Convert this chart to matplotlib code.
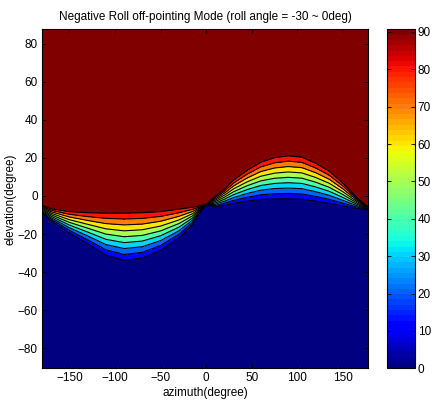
import numpy as np
import matplotlib
matplotlib.use("Agg")
import matplotlib.pyplot as plt
from matplotlib.colors import Normalize
from matplotlib.cm import ScalarMappable

# ---- data ----
# azimuth samples (deg)
azimuth = [-180, -170, -150, -130, -110, -90, -70, -50, -30, -15, -7, 0,
           10, 20, 30, 45, 60, 75, 90, 105, 120, 135, 150, 165, 175, 180]
# elevation of the highest contour line (level 90) at each azimuth
elev_top = [-4.8, -6.7, -8.2, -8.8, -9.0, -9.0, -8.8, -8.2, -6.9, -5.9, -5.2, -4.5,
            -0.1, 3.6, 8.3, 13.5, 17.7, 20.1, 21.1, 20.4, 17.2, 13.0, 6.7, -0.6, -4.8, -6.4]
# elevation of the lowest contour line (level 10) at each azimuth
elev_bot = [-9.0, -13.0, -19.5, -25.0, -31.0, -33.8, -32.6, -28.5, -22.1, -15.0, -9.0, -4.8,
            -5.8, -4.9, -3.9, -2.7, -1.8, -1.5, -1.5, -1.7, -2.7, -3.9, -5.3, -6.5, -7.2, -8.0]
low_level, high_level = 10, 90
contour_levels = [0, 10, 20, 30, 40, 50, 60, 70, 80, 90, 100]
cbar_ticks = [0, 10, 20, 30, 40, 50, 60, 70, 80, 90]
xticks = [-150, -100, -50, 0, 50, 100, 150]
yticks = [-80, -60, -40, -20, 0, 20, 40, 60, 80]

title = "Negative Roll off-pointing Mode (roll angle = -30 ~ 0deg)"
xlabel = "azimuth(degree)"
ylabel = "elevation(degree)"

# ---- build field on a fine rendering grid ----
az_fine = np.linspace(-180, 180, 721)
top = np.interp(az_fine, azimuth, elev_top)
bot = np.interp(az_fine, azimuth, elev_bot)
elev = np.linspace(-90.5, 87.5, 713)
A, E = np.meshgrid(az_fine, elev)
width = np.maximum(top - bot, 0.3)
Z = low_level + (high_level - low_level) * (E - bot[None, :]) / width[None, :]
Z = np.clip(Z, 0, 95)

plt.rcParams['font.family'] = ['Liberation Sans', 'DejaVu Sans']
fs = 8.5

fig = plt.figure(figsize=(4.32, 4.08), dpi=100)
ax = fig.add_axes([0.0972, 0.0973, 0.7547, 0.8307])
cmap = plt.get_cmap('jet', 64)
norm = Normalize(0, 90)
band_colors = [cmap(norm(l)) for l in contour_levels[:-1]]
ax.contourf(A, E, Z, levels=contour_levels, colors=band_colors)
ax.contour(A, E, Z, levels=contour_levels[1:-1], colors='black', linewidths=0.8)
ax.set_xlim(-180, 177.5)
ax.set_ylim(-90.5, 87.5)
ax.set_xticks(xticks)
ax.set_yticks(yticks)
ax.tick_params(direction='in', length=3, width=0.6, labelsize=fs,
               top=True, right=True, pad=3)
for s in ax.spines.values():
    s.set_linewidth(0.8)
ax.set_title(title, fontsize=fs, pad=7)
ax.set_xlabel(xlabel, fontsize=fs, labelpad=2)
ax.set_ylabel(ylabel, fontsize=fs, labelpad=1)

cax = fig.add_axes([0.8958, 0.0973, 0.0648, 0.8307])
sm = ScalarMappable(norm=Normalize(0, 90.7), cmap=cmap)
cb = fig.colorbar(sm, cax=cax, ticks=cbar_ticks)
cb.outline.set_linewidth(0.8)
cax.tick_params(direction='in', length=3, width=0.6, labelsize=fs,
                left=True, right=True, pad=2)

fig.savefig("out.png", dpi=100)
